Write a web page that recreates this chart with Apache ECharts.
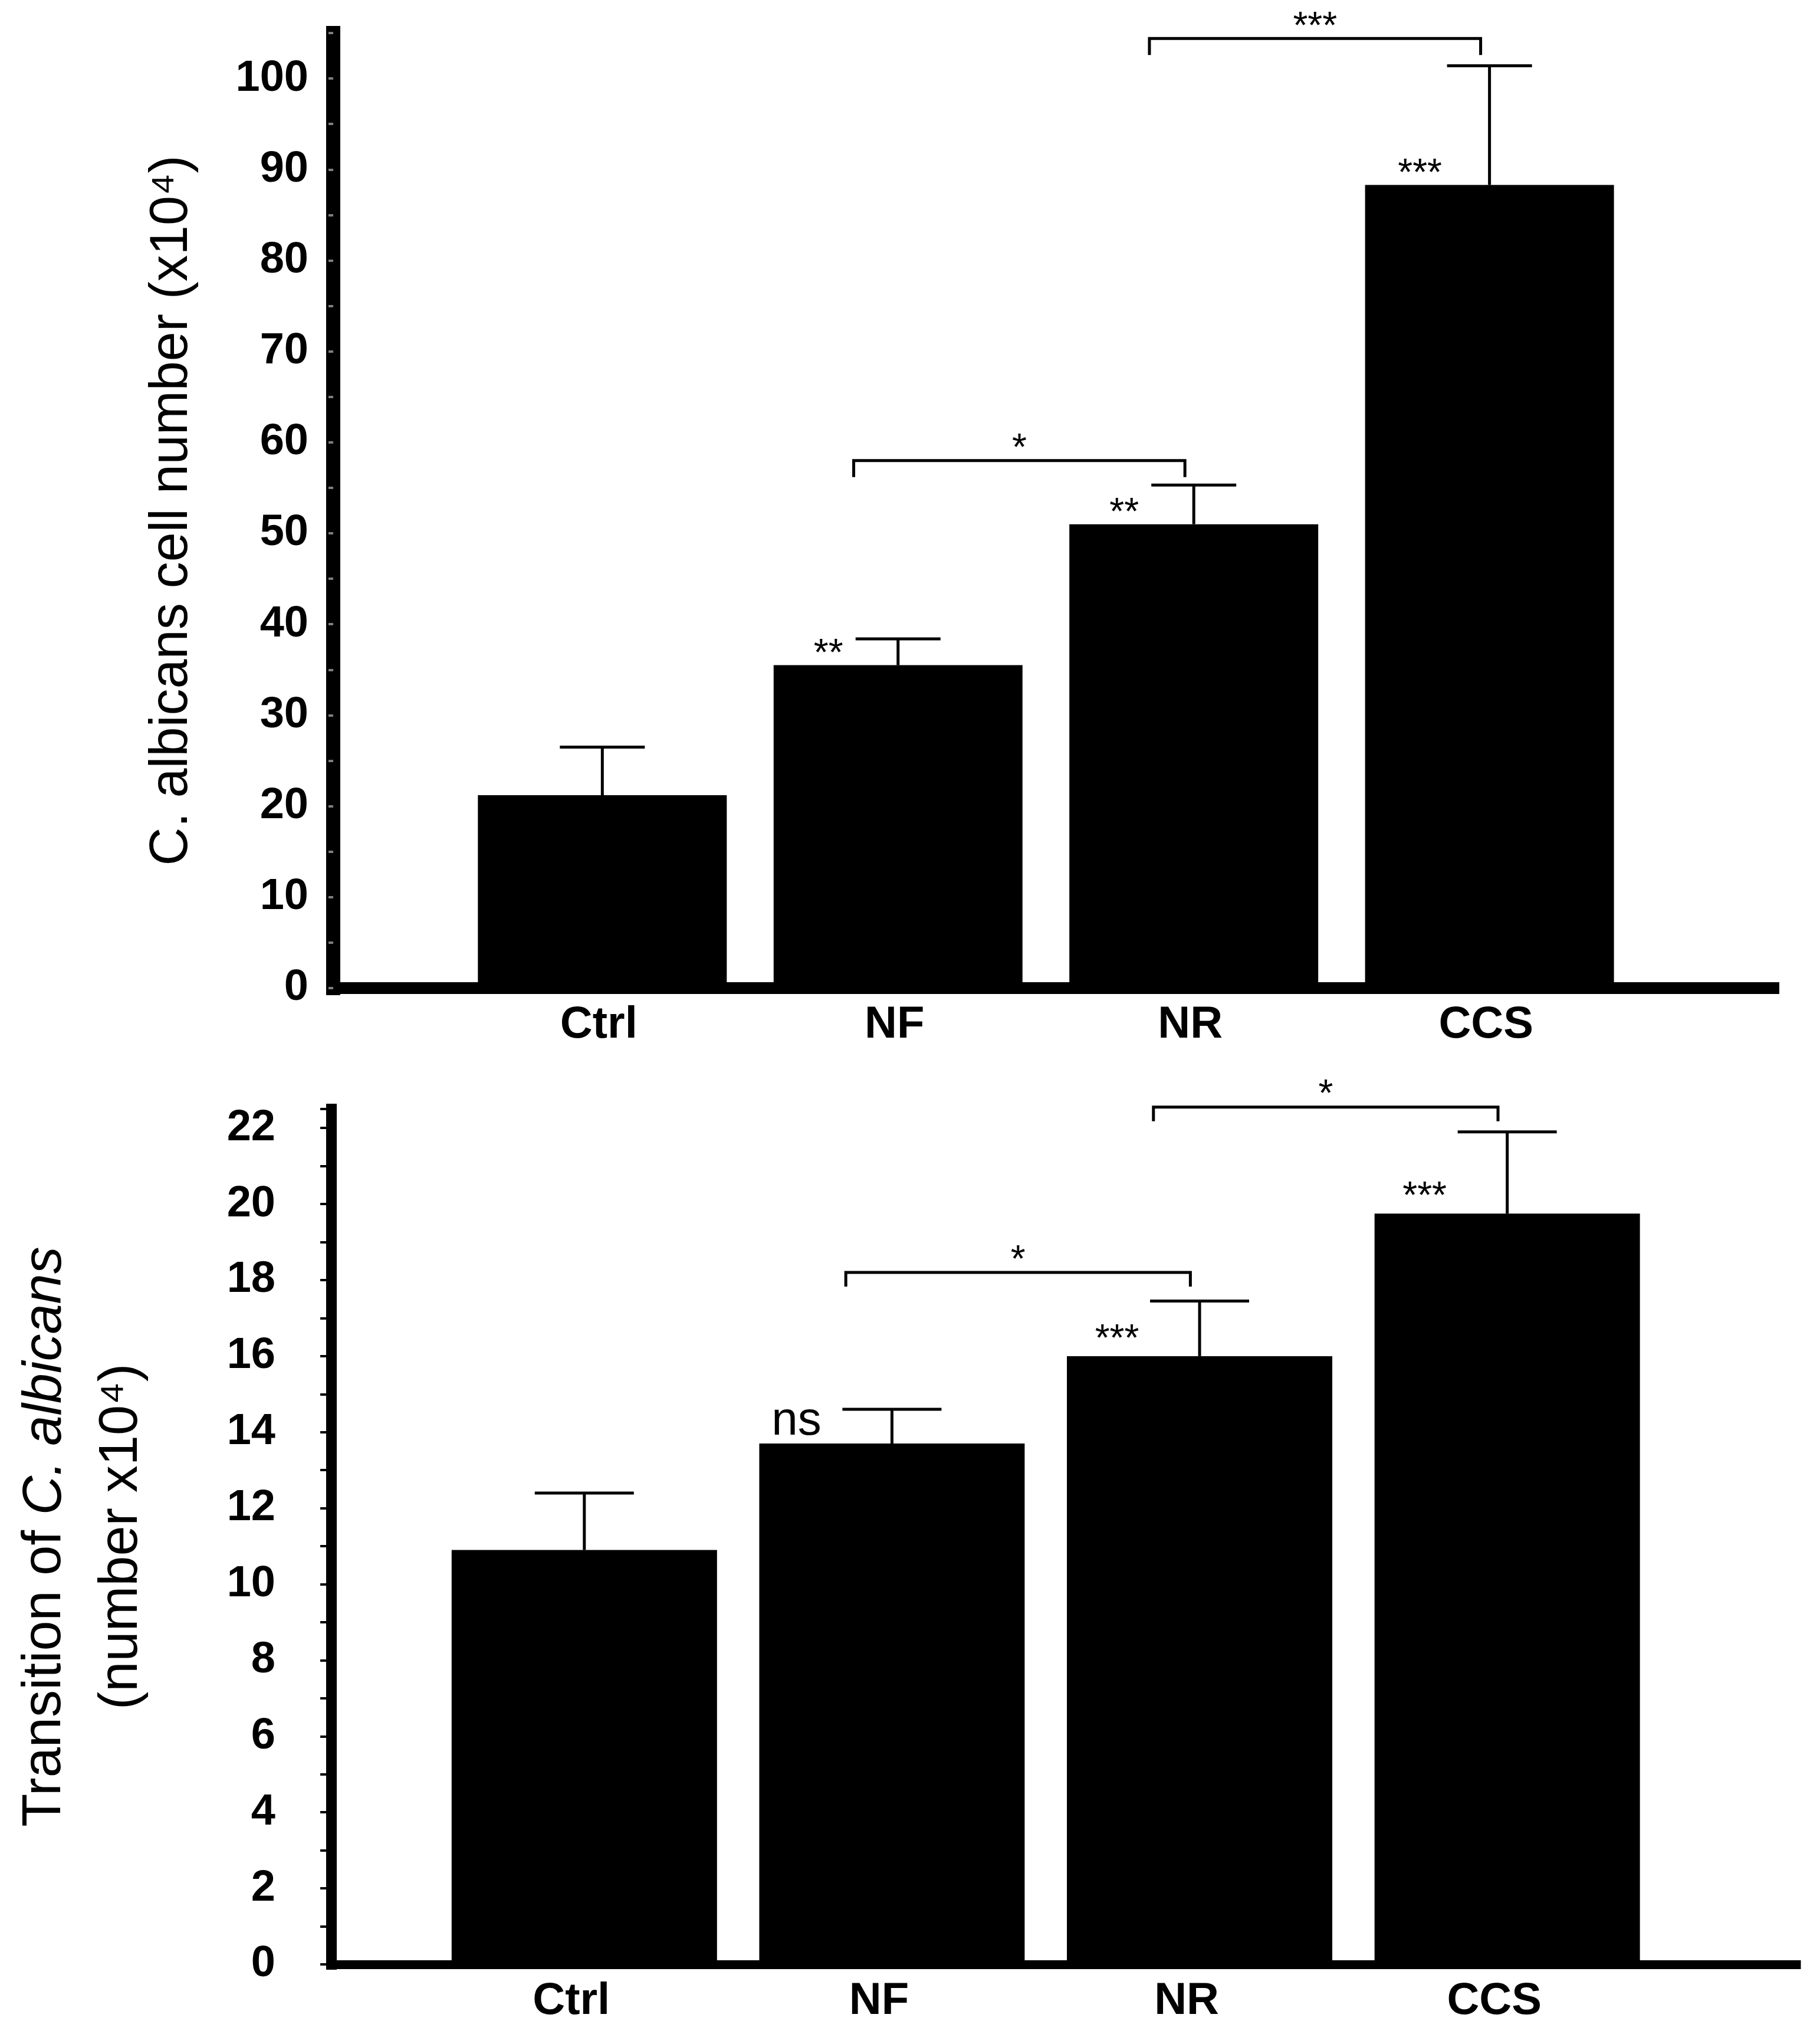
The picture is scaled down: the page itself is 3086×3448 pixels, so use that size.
<!DOCTYPE html>
<html>
<head>
<meta charset="utf-8">
<script src="https://cdn.jsdelivr.net/npm/echarts@6/dist/echarts.min.js"></script>
<style>
html,body{margin:0;padding:0;background:#fff;}
#chart{width:3086px;height:3448px;}
</style>
</head>
<body>
<div id="chart"></div>
<script>
var groups = ['Ctrl', 'NF', 'NR', 'CCS'];
var groupPos = [1, 2, 3, 4];

// upper panel: cell number (x10^4)
var cellMean = [21.2, 35.5, 51.0, 88.3];
var cellSem = [5.3, 2.9, 4.3, 13.1];
var cellSig = ['', '**', '**', '***'];
var cellBrFrom = [2, 3];
var cellBrTo = [3, 4];
var cellBrY = [58.0, 104.4];
var cellBrSig = ['*', '***'];

// lower panel: transition (number x10^4)
var transMean = [10.9, 13.7, 16.0, 19.75];
var transSem = [1.5, 0.9, 1.45, 2.15];
var transSig = ['', 'ns', '***', '***'];
var transBrFrom = [2, 3];
var transBrTo = [3, 4];
var transBrY = [18.2, 22.55];
var transBrSig = ['*', '*'];

var FONT = "'Liberation Sans', Arial, sans-serif";

function pairs(a) {
  return groupPos.map(function (p, i) { return [p, a[i]]; });
}

function errorBar(capHalf) {
  return function (params, api) {
    var p0 = api.coord([api.value(0), api.value(1)]);
    var p1 = api.coord([api.value(0), api.value(2)]);
    var st = {stroke: '#000', lineWidth: 5};
    return {type: 'group', children: [
      {type: 'line', shape: {x1: p0[0], y1: p0[1], x2: p1[0], y2: p1[1]}, style: st},
      {type: 'line', shape: {x1: p1[0] - capHalf, y1: p1[1], x2: p1[0] + capHalf, y2: p1[1]}, style: st}
    ]};
  };
}

// stars / ns written just left of the error bar
function sigText(labels, dx, dyStar, dyNs) {
  return function (params, api) {
    var t = labels[params.dataIndex];
    if (!t) return null;
    var p = api.coord([api.value(0), api.value(1)]);
    var ns = t === 'ns';
    return {type: 'text', x: p[0] + (ns ? dx - 22 : dx), y: p[1] + (ns ? dyNs : dyStar), style: {
      text: t, fill: '#000', fontFamily: FONT, fontSize: ns ? 80 : 64,
      textAlign: 'center', textVerticalAlign: 'middle'
    }};
  };
}

function bracket(labels, drop, dyStar) {
  return function (params, api) {
    var a = api.coord([api.value(0) - 0.15, api.value(2)]);
    var b = api.coord([api.value(1) - 0.03, api.value(2)]);
    return {type: 'group', children: [
      {type: 'polyline', shape: {points: [[a[0], a[1] + drop], [a[0], a[1]], [b[0], b[1]], [b[0], b[1] + drop]]},
        style: {stroke: '#000', lineWidth: 5, fill: null}},
      {type: 'text', x: (a[0] + b[0]) / 2, y: a[1] + dyStar, style: {
        text: labels[params.dataIndex], fill: '#000', fontFamily: FONT, fontSize: 64,
        textAlign: 'center', textVerticalAlign: 'middle'}}
    ]};
  };
}

function catAxis(idx, min, max, lineW, shift) {
  return {
    gridIndex: idx, type: 'value', min: min, max: max,
    axisLine: {show: true, onZero: false, lineStyle: {color: '#000', width: lineW, cap: 'square'}},
    axisTick: {show: false},
    splitLine: {show: false},
    axisLabel: {
      customValues: groupPos,
      formatter: function (v) { return groups[Math.round(v) - 1] || ''; },
      fontFamily: FONT, fontSize: 76, fontWeight: 'bold', color: '#000', margin: 25,
      padding: [0, shift, 0, 0]
    }
  };
}

var myChart = echarts.init(document.getElementById('chart'));

var option = {
  animation: false,
  backgroundColor: '#fff',
  grid: [
    {left: 565, top: 56, width: 2442, height: 1619, outerBoundsMode: 'none'},
    {left: 562, top: 1880, width: 2484, height: 1450, outerBoundsMode: 'none'}
  ],
  xAxis: [
    catAxis(0, 0.09, 4.96, 20, 12),
    catAxis(1, 0.178, 4.94, 15, 44)
  ],
  yAxis: [
    {
      gridIndex: 0, type: 'value', min: 0, max: 105, interval: 5,
      name: 'C. albicans cell number (x10⁴)',
      nameLocation: 'middle', nameGap: 228,
      nameTextStyle: {fontFamily: FONT, fontSize: 90, color: '#000'},
      axisLine: {show: true, onZero: false, lineStyle: {color: '#000', width: 24, cap: 'square'}},
      axisTick: {show: true, length: 8, lineStyle: {color: '#7f7f7f', width: 4}},
      splitLine: {show: false},
      axisLabel: {
        fontFamily: FONT, fontSize: 74, fontWeight: 'bold', color: '#000', margin: 42,
        formatter: function (v) { return v % 10 === 0 ? String(v) : ''; }
      }
    },
    {
      gridIndex: 1, type: 'value', min: 0, max: 22.5, interval: 1,
      name: 'Transition of {i|C. albicans}\n(number x10⁴)',
      nameLocation: 'middle', nameGap: 290,
      nameTextStyle: {fontFamily: FONT, fontSize: 92, lineHeight: 130, color: '#000',
        rich: {i: {fontFamily: FONT, fontSize: 92, lineHeight: 130, fontStyle: 'italic', color: '#000'}}},
      axisLine: {show: true, onZero: false, lineStyle: {color: '#000', width: 18, cap: 'square'}},
      axisTick: {show: true, length: 19, lineStyle: {color: '#000', width: 4}},
      minorTick: {show: true, splitNumber: 4, length: 7, lineStyle: {color: '#000', width: 4}},
      splitLine: {show: false},
      minorSplitLine: {show: false},
      axisLabel: {
        fontFamily: FONT, fontSize: 74, fontWeight: 'bold', color: '#000', margin: 95,
        formatter: function (v) { return (v % 2 === 0) ? String(v) : ''; }
      }
    }
  ],
  series: [
    {type: 'bar', xAxisIndex: 0, yAxisIndex: 0, data: pairs(cellMean), barWidth: 422,
      itemStyle: {color: '#000'}, silent: true},
    {type: 'custom', xAxisIndex: 0, yAxisIndex: 0, z: 3,
      data: groupPos.map(function (p, i) { return [p, cellMean[i], cellMean[i] + cellSem[i]]; }),
      renderItem: errorBar(72)},
    {type: 'custom', xAxisIndex: 0, yAxisIndex: 0, z: 3, data: pairs(cellMean),
      renderItem: sigText(cellSig, -118, -17, -30)},
    {type: 'custom', xAxisIndex: 0, yAxisIndex: 0, z: 3,
      data: cellBrY.map(function (y, i) { return [cellBrFrom[i], cellBrTo[i], y]; }),
      renderItem: bracket(cellBrSig, 28, -18)},

    {type: 'bar', xAxisIndex: 1, yAxisIndex: 1, data: pairs(transMean), barWidth: 450,
      itemStyle: {color: '#000'}, silent: true},
    {type: 'custom', xAxisIndex: 1, yAxisIndex: 1, z: 3,
      data: groupPos.map(function (p, i) { return [p, transMean[i], transMean[i] + transSem[i]]; }),
      renderItem: errorBar(84)},
    {type: 'custom', xAxisIndex: 1, yAxisIndex: 1, z: 3, data: pairs(transMean),
      renderItem: sigText(transSig, -140, -27, -37)},
    {type: 'custom', xAxisIndex: 1, yAxisIndex: 1, z: 3,
      data: transBrY.map(function (y, i) { return [transBrFrom[i], transBrTo[i], y]; }),
      renderItem: bracket(transBrSig, 24, -19)}
  ]
};

myChart.setOption(option);
</script>
</body>
</html>
